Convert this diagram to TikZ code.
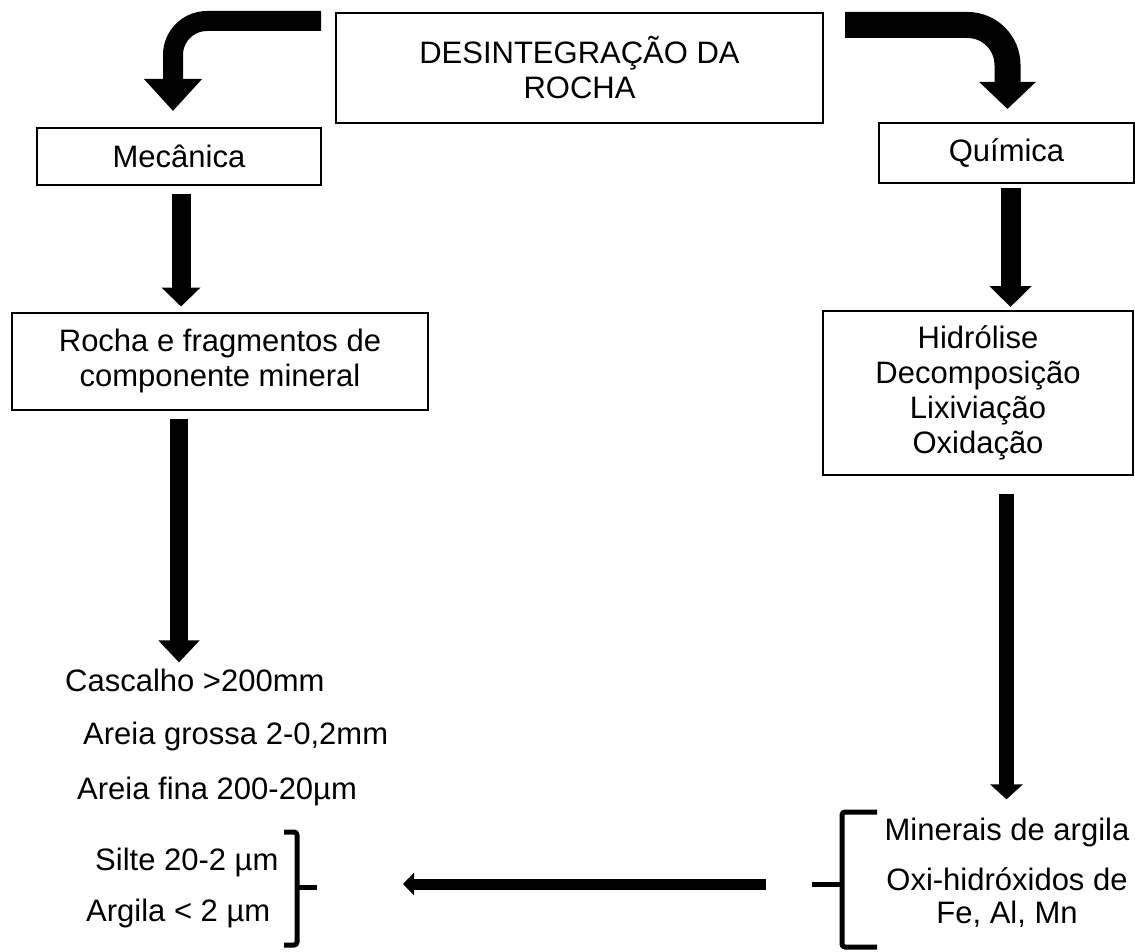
\documentclass[tikz,border=0pt]{standalone}
\usepackage{fontspec}
\setmainfont{Liberation Sans}
\usepackage{tikz}
\usetikzlibrary{positioning,arrows.meta,calc}

\begin{document}
\begin{tikzpicture}[x=1pt,y=-1pt,
  blk/.style={draw=black,line width=2pt,inner sep=0pt,align=center,font=\fontsize{31}{35}\selectfont},
  lbl/.style={inner sep=0pt,anchor=west,font=\fontsize{31}{35}\selectfont},
  fat/.style={draw=black,line width=#1},
  brace/.style={line width=5pt,rounded corners=3pt}
]
  \useasboundingbox (0,0) rectangle (1135,952);
  % boxes
  \node[blk,minimum width=487pt,minimum height=110pt] (desint) at (579.5,68) {DESINTEGRAÇÃO DA\\ROCHA};
  \node[blk,minimum width=284pt,minimum height=57pt] (mec) at (179,156.5) {Mecânica};
  \node[blk,minimum width=255pt,minimum height=60pt] (quim) at (1006.5,153) {Química};
  \node[blk,minimum width=416pt,minimum height=97pt] (rocha) at (220,361) {Rocha e fragmentos de\\componente mineral};
  \node[blk,minimum width=310pt,minimum height=164pt] (hidro) at (978,393) {Hidrólise\\Decomposição\\Lixiviação\\Oxidação};
  % grain sizes
  \node[lbl] (casc) at (65,680) {Cascalho >200mm};
  \node[lbl] (grossa) at (83,736) {Areia grossa 2-0,2mm};
  \node[lbl] (fina) at (77,791) {Areia fina 200-20µm};
  \node[lbl] (silte) at (95,862) {Silte 20-2 µm};
  \node[lbl] (argila) at (86,913) {Argila < 2 µm};
  % products
  \node[lbl,anchor=center] (miner) at (1007,832) {Minerais de argila};
  \node[lbl,anchor=center,align=center,font=\fontsize{31}{33}\selectfont] (oxi) at (1007,898) {Oxi-hidróxidos de\\Fe, Al, Mn};
  % braces
  \draw[brace] (284,832) -- (297,832) -- (297,945) -- (284,945);
  \draw[brace] (297,887) -- (317,887) coordinate (ltip);
  \draw[brace] (877,812) -- (842,812) -- (842,947) -- (877,947);
  \draw[brace] (842,884) -- (812,884) coordinate (rtip);
  % curved arrows
  \draw[fat=20pt,rounded corners=34pt,-{Triangle[length=32pt,width=56pt]}]
    ([shift={(-14pt,-9pt)}]desint.north west) -| ([shift={(-6pt,16pt)}]mec.north);
  \draw[fat=26pt,rounded corners=40pt,-{Triangle[length=27pt,width=55pt]}]
    ([shift={(21pt,-13pt)}]desint.north east) -| ([shift={(1pt,13pt)}]quim.north);
  % straight arrows
  \draw[fat=19pt,-{Triangle[length=19pt,width=38pt]},shorten <=8pt,shorten >=5pt]
    ([xshift=2pt]mec.south) -- ([xshift=2pt]mec.south |- rocha.north);
  \draw[fat=18pt,-{Triangle[length=22pt,width=40pt]},shorten <=8pt,shorten >=6pt]
    (mec.south |- rocha.south) -- (mec.south |- casc.north);
  \draw[fat=20pt,-{Triangle[length=21pt,width=41pt]},shorten <=4pt,shorten >=3pt]
    ([xshift=4pt]quim.south) -- ([xshift=4pt]quim.south |- hidro.north);
  \draw[fat=15pt,-{Triangle[length=15pt,width=32pt]},shorten <=18pt,shorten >=18pt]
    (quim.south |- hidro.south) -- (quim.south |- miner.north);
  \draw[fat=11pt,-{Triangle[length=11pt,width=22pt]},shorten <=46pt,shorten >=86pt]
    (rtip) -- (rtip -| ltip);
\end{tikzpicture}
\end{document}
